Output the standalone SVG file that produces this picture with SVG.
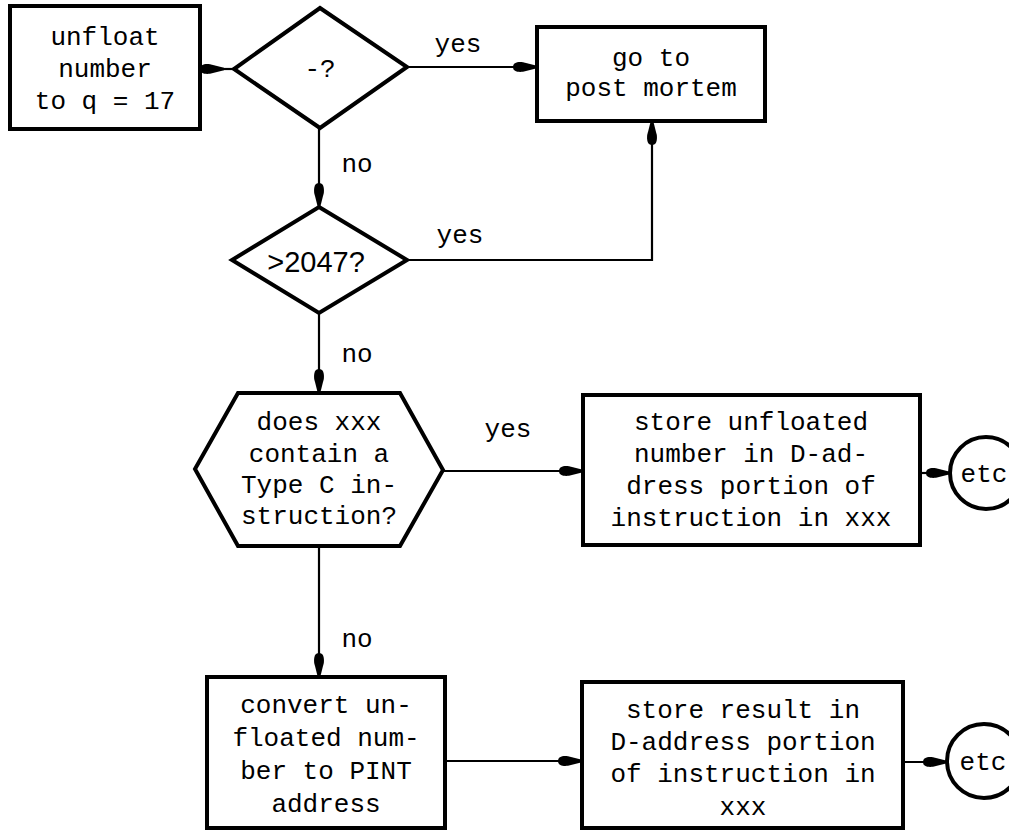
<svg xmlns="http://www.w3.org/2000/svg" width="1009" height="832" viewBox="0 0 1009 832">
<style>
.shape{fill:#fff;stroke:#000;stroke-width:4;stroke-linejoin:miter}
.conn{fill:none;stroke:#000;stroke-width:2.2}
.t{font-family:"Liberation Mono","Courier New",monospace;font-size:26px;fill:#000;text-anchor:middle}
.s{font-family:"Liberation Sans",Arial,sans-serif;font-size:29px;fill:#000;text-anchor:middle}
</style>
<defs>
<marker id="ah" markerUnits="userSpaceOnUse" markerWidth="28" markerHeight="12" refX="26" refY="6" orient="auto" overflow="visible">
<path d="M26,4.8 L12,1.2 C6,0.6 2,1.8 2,6 C2,10.2 6,11.4 12,10.8 L26,7.2 Z" fill="#000"/>
</marker>
</defs>
<rect width="1009" height="832" fill="#fff"/>
<g id="connectors">
<path class="conn" d="M200,69 H224" marker-end="url(#ah)"/>
<path class="conn" d="M224,69 H234"/>
<path class="conn" d="M407,67 H537" marker-end="url(#ah)"/>
<path class="conn" d="M319,128 V207" marker-end="url(#ah)"/>
<path class="conn" d="M407,260 H652 V121" marker-end="url(#ah)"/>
<path class="conn" d="M319,313 V393" marker-end="url(#ah)"/>
<path class="conn" d="M443,471 H583" marker-end="url(#ah)"/>
<path class="conn" d="M920,473 H950" marker-end="url(#ah)"/>
<path class="conn" d="M319,546 V677" marker-end="url(#ah)"/>
<path class="conn" d="M445,761 H582" marker-end="url(#ah)"/>
<path class="conn" d="M903,762 H947" marker-end="url(#ah)"/>
<text class="t" x="458" y="52">yes</text>
<text class="t" x="357" y="172">no</text>
<text class="t" x="460" y="243">yes</text>
<text class="t" x="357" y="362">no</text>
<text class="t" x="508" y="437">yes</text>
<text class="t" x="357" y="647">no</text>
</g>
<g id="unfloat">
<rect class="shape" x="10" y="6" width="190" height="123"/>
<text class="t" x="105" y="45">unfloat</text>
<text class="t" x="105" y="77">number</text>
<text class="t" x="105" y="109">to q = 17</text>
</g>
<g id="negative">
<polygon class="shape" points="320,8 407,67 320,128 234,69"/>
<text class="t" x="320" y="77">-?</text>
</g>
<g id="postmortem">
<rect class="shape" x="537" y="27" width="228" height="94"/>
<text class="t" x="651" y="66">go to</text>
<text class="t" x="651" y="96">post mortem</text>
</g>
<g id="gt2047">
<polygon class="shape" points="319,207 407,260 319,313 232,260"/>
<text class="s" x="316" y="272">&gt;2047?</text>
</g>
<g id="typec">
<polygon class="shape" points="238,393 400,393 443,470 400,546 238,546 195,469"/>
<text class="t" x="319" y="430">does xxx</text>
<text class="t" x="319" y="462">contain a</text>
<text class="t" x="319" y="493">Type C in-</text>
<text class="t" x="319" y="524">struction?</text>
</g>
<g id="storeunfloated">
<rect class="shape" x="583" y="395" width="337" height="150"/>
<text class="t" x="751" y="430">store unfloated</text>
<text class="t" x="751" y="462">number in D-ad-</text>
<text class="t" x="751" y="494">dress portion of</text>
<text class="t" x="751" y="526">instruction in xxx</text>
</g>
<g id="etc1">
<circle class="shape" cx="986" cy="473" r="36"/>
<text class="t" x="984" y="482">etc</text>
</g>
<g id="convert">
<rect class="shape" x="207" y="677" width="238" height="151"/>
<text class="t" x="326" y="713">convert un-</text>
<text class="t" x="326" y="746">floated num-</text>
<text class="t" x="326" y="779">ber to PINT</text>
<text class="t" x="326" y="812">address</text>
</g>
<g id="storeresult">
<rect class="shape" x="582" y="682" width="321" height="146"/>
<text class="t" x="743" y="718">store result in</text>
<text class="t" x="743" y="750">D-address portion</text>
<text class="t" x="743" y="782">of instruction in</text>
<text class="t" x="743" y="815">xxx</text>
</g>
<g id="etc2">
<circle class="shape" cx="984" cy="761" r="37"/>
<text class="t" x="983" y="770">etc</text>
</g>
</svg>
